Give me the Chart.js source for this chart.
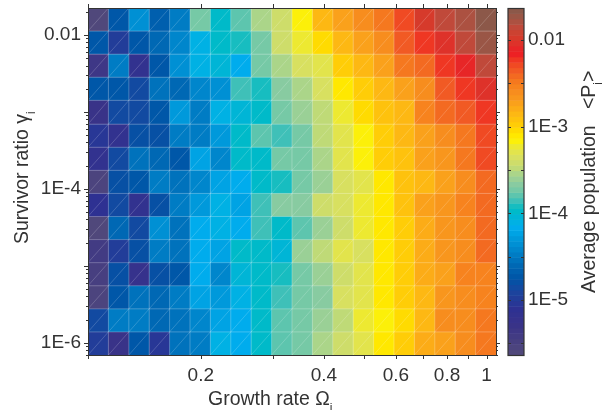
<!DOCTYPE html>
<html>
<head>
<meta charset="utf-8">
<style>
  html, body { margin: 0; padding: 0; background: #fff; }
  #wrap { width: 615px; height: 410px; }
</style>
<script src="https://cdn.jsdelivr.net/npm/chart.js@4"></script>
</head>
<body>
<div id="wrap"><canvas id="heat" width="615" height="410"></canvas></div>
<script>
/* 셀 경계 (Growth rate, log10 Survivor ratio) */
const xEdges = [0.1060, 0.1189, 0.1334, 0.1496, 0.1678, 0.1882, 0.2111, 0.2368, 0.2656, 0.2980, 0.3342,
                0.3749, 0.4205, 0.4717, 0.5291, 0.5935, 0.6657, 0.7467, 0.8376, 0.9396, 1.054];
const yEdgeExp = [-1.65, -1.95, -2.25, -2.55, -2.85, -3.16, -3.46, -3.76, -4.06, -4.36, -4.66, -4.96, -5.26, -5.56, -5.86, -6.16];

/* log10 <P_i>, 위쪽 행부터 */
const row0  = [-5.60,-4.70,-4.33,-4.65,-4.45,-3.75,-3.95,-3.82,-3.55,-3.40,-3.15,-2.85,-2.72,-2.62,-2.45,-2.28,-1.98,-1.87,-1.76,-1.65];
const row1  = [-4.72,-5.00,-4.72,-4.62,-4.42,-4.13,-4.00,-3.92,-3.75,-3.40,-3.25,-3.05,-2.88,-2.72,-2.62,-2.38,-2.20,-2.05,-1.85,-1.73];
const row2  = [-5.35,-4.50,-5.15,-4.70,-4.35,-4.13,-4.05,-4.15,-3.72,-3.55,-3.38,-3.28,-2.98,-2.85,-2.72,-2.50,-2.43,-2.25,-2.13,-1.87];
const row3  = [-4.70,-4.72,-4.85,-4.55,-4.60,-4.42,-4.35,-3.87,-3.90,-3.67,-3.52,-3.38,-3.13,-2.98,-2.85,-2.72,-2.62,-2.38,-2.25,-2.05];
const row4  = [-5.30,-4.85,-4.88,-4.70,-4.30,-4.47,-4.12,-4.05,-3.95,-3.70,-3.60,-3.50,-3.20,-3.05,-2.92,-2.85,-2.55,-2.43,-2.35,-2.20];
const row5  = [-5.05,-5.15,-4.78,-4.78,-4.50,-4.47,-4.30,-3.95,-3.80,-3.87,-3.73,-3.50,-3.28,-3.15,-2.97,-2.85,-2.75,-2.62,-2.45,-2.30];
const row6  = [-5.15,-4.88,-4.55,-4.62,-4.70,-4.25,-4.42,-3.95,-3.97,-3.73,-3.70,-3.52,-3.28,-3.15,-2.98,-2.92,-2.75,-2.65,-2.50,-2.30];
const row7  = [-5.55,-4.78,-4.70,-4.45,-4.55,-4.40,-4.25,-4.15,-3.97,-3.90,-3.75,-3.58,-3.38,-3.28,-3.08,-2.92,-2.85,-2.73,-2.60,-2.42];
const row8  = [-5.10,-4.88,-5.15,-4.78,-4.50,-4.32,-4.10,-4.20,-3.88,-3.68,-3.67,-3.42,-3.38,-3.20,-3.08,-2.92,-2.75,-2.68,-2.55,-2.43];
const row9  = [-5.60,-4.62,-4.88,-4.37,-4.55,-4.15,-4.12,-4.15,-3.88,-3.97,-3.78,-3.58,-3.43,-3.20,-3.08,-2.98,-2.78,-2.68,-2.57,-2.42];
const row10 = [-5.40,-5.00,-4.78,-4.47,-4.52,-4.15,-4.20,-4.00,-3.97,-4.05,-3.63,-3.50,-3.27,-3.37,-3.07,-2.95,-2.78,-2.67,-2.57,-2.40];
const row11 = [-5.45,-4.78,-5.20,-4.78,-4.75,-4.15,-4.42,-4.05,-3.95,-3.90,-3.70,-3.58,-3.43,-3.27,-3.07,-2.95,-2.78,-2.70,-2.52,-2.52];
const row12 = [-5.55,-4.72,-4.57,-4.58,-4.50,-4.25,-4.30,-4.10,-4.00,-3.85,-3.72,-3.67,-3.38,-3.28,-3.07,-2.95,-2.85,-2.67,-2.57,-2.52];
const row13 = [-4.88,-4.50,-4.50,-4.62,-4.55,-4.42,-4.20,-4.15,-3.97,-3.82,-3.72,-3.58,-3.50,-3.20,-3.15,-3.02,-2.85,-2.57,-2.57,-2.47];
const row14 = [-5.00,-5.28,-4.72,-5.02,-4.52,-4.45,-4.13,-4.15,-3.95,-3.82,-3.72,-3.55,-3.42,-3.27,-3.12,-2.95,-2.78,-2.70,-2.62,-2.47];
const rows = [row0, row1, row2, row3, row4, row5, row6, row7, row8, row9, row10, row11, row12, row13, row14];

/* 눈금 */
const xLabelTicks = [0.2, 0.4, 0.6, 0.8, 1];
const xMarkTicks = [0.106, 0.2, 0.3, 0.4, 0.5, 0.6, 0.7, 0.8, 0.9, 1];
const yLabelTicks = [1e-2, 1e-4, 1e-6];
const yMajorTicks = [1e-2, 1e-3, 1e-4, 1e-5, 1e-6];
const cbLabelTicks = [1e-2, 1e-3, 1e-4, 1e-5];

const LOG_MIN = -5.635, LOG_MAX = -1.631, LEVELS = 64;
const INK = '#333333';
const FONT = "'Liberation Sans', Arial, sans-serif";

/* 컬러맵 정지점 [log10 값, rgb] */
const STOPS = [
  [-5.63, [82, 74, 122]], [-5.30, [58, 51, 136]], [-5.10, [46, 49, 146]], [-4.90, [26, 69, 158]],
  [-4.75, [0, 84, 166]], [-4.60, [0, 104, 180]], [-4.45, [0, 128, 200]], [-4.30, [0, 152, 218]],
  [-4.15, [0, 174, 239]], [-4.05, [0, 180, 216]], [-3.95, [0, 188, 196]], [-3.85, [64, 192, 184]],
  [-3.75, [112, 200, 168]], [-3.65, [140, 204, 160]], [-3.55, [168, 212, 140]], [-3.45, [200, 220, 112]],
  [-3.35, [216, 224, 96]], [-3.25, [232, 230, 64]], [-3.15, [255, 242, 0]], [-3.05, [255, 221, 0]],
  [-2.95, [255, 200, 10]], [-2.85, [253, 184, 19]], [-2.75, [251, 165, 26]], [-2.65, [247, 148, 30]],
  [-2.55, [247, 133, 30]], [-2.45, [244, 115, 32]], [-2.35, [241, 90, 36]], [-2.25, [240, 64, 35]],
  [-2.15, [237, 28, 36]], [-2.05, [224, 48, 42]], [-1.95, [211, 62, 44]], [-1.85, [192, 73, 58]],
  [-1.75, [160, 85, 69]], [-1.63, [133, 89, 74]]
];

function colorAt(logValue) {
  // 64단계로 끊어서 색을 고른다
  let lvl = Math.floor((logValue - LOG_MIN) / (LOG_MAX - LOG_MIN) * LEVELS);
  lvl = Math.max(0, Math.min(LEVELS - 1, lvl));
  const v = LOG_MIN + (lvl + 0.5) / LEVELS * (LOG_MAX - LOG_MIN);
  for (let i = 1; i < STOPS.length; i++) {
    if (v <= STOPS[i][0]) {
      const t = (v - STOPS[i - 1][0]) / (STOPS[i][0] - STOPS[i - 1][0]);
      const c = STOPS[i - 1][1].map((a, k) => Math.round(a + (STOPS[i][1][k] - a) * t));
      return `rgb(${c[0]},${c[1]},${c[2]})`;
    }
  }
  const last = STOPS[STOPS.length - 1][1];
  return `rgb(${last[0]},${last[1]},${last[2]})`;
}

const cellPoints = [];
rows.forEach((row, r) => {
  row.forEach((v, c) => {
    cellPoints.push({
      x: Math.sqrt(xEdges[c] * xEdges[c + 1]),
      y: Math.pow(10, (yEdgeExp[r] + yEdgeExp[r + 1]) / 2),
      v, r, c
    });
  });
});

const heatCells = {
  id: 'heatCells',
  beforeDatasetsDraw(chart) {
    const { ctx, scales: { x, y } } = chart;
    ctx.save();
    const px = xEdges.map(e => x.getPixelForValue(e));
    const py = yEdgeExp.map(e => y.getPixelForValue(Math.pow(10, e)));
    cellPoints.forEach(p => {
      ctx.fillStyle = colorAt(p.v);
      ctx.fillRect(px[p.c], py[p.r], px[p.c + 1] - px[p.c] + 0.5, py[p.r + 1] - py[p.r] + 0.5);
    });
    // 셀 경계선과 대각선 (원본의 PDF 렌더링 잔선)
    ctx.strokeStyle = 'rgba(255,255,255,0.26)';
    ctx.lineWidth = 1;
    ctx.beginPath();
    px.slice(1, -1).forEach(v => { ctx.moveTo(v, py[0]); ctx.lineTo(v, py[py.length - 1]); });
    py.slice(1, -1).forEach(v => { ctx.moveTo(px[0], v); ctx.lineTo(px[px.length - 1], v); });
    ctx.stroke();
    ctx.strokeStyle = 'rgba(255,255,255,0.3)';
    ctx.lineWidth = 0.6;
    ctx.beginPath();
    cellPoints.forEach(p => {
      ctx.moveTo(px[p.c], py[p.r + 1]);
      ctx.lineTo(px[p.c + 1], py[p.r]);
    });
    ctx.stroke();
    ctx.restore();
  }
};

function drawSubText(ctx, parts, x, y) {
  // parts: [텍스트, 아래첨자 여부]
  let cx = x;
  parts.forEach(([txt, sub]) => {
    ctx.font = (sub ? '12px ' : '19.5px ') + FONT;
    ctx.fillText(txt, cx, sub ? y + 7 : y);
    cx += ctx.measureText(txt).width;
  });
}

const frameAndBar = {
  id: 'frameAndBar',
  afterDraw(chart) {
    const { ctx, chartArea: a, scales: { x, y, cb } } = chart;
    ctx.save();
    ctx.strokeStyle = INK;
    ctx.lineWidth = 1;

    // 프레임 바깥쪽 눈금
    ctx.beginPath();
    xMarkTicks.forEach(v => {
      const p = Math.round(x.getPixelForValue(v)) + 0.5;
      ctx.moveTo(p, a.bottom); ctx.lineTo(p, a.bottom + 4);
      ctx.moveTo(p, a.top); ctx.lineTo(p, a.top - 4);
    });
    yMajorTicks.forEach(v => {
      const p = Math.round(y.getPixelForValue(v)) + 0.5;
      ctx.moveTo(a.left, p); ctx.lineTo(a.left - 4, p);
      ctx.moveTo(a.right, p); ctx.lineTo(a.right + 4, p);
    });
    for (let e = -7; e <= -2; e++) {
      [2, 3, 4, 5, 6, 7, 8, 9].forEach(m => {
        const v = m * Math.pow(10, e);
        if (v < y.min || v > y.max) return;
        const p = Math.round(y.getPixelForValue(v)) + 0.5;
        ctx.moveTo(a.left, p); ctx.lineTo(a.left - 2, p);
        ctx.moveTo(a.right, p); ctx.lineTo(a.right + 2, p);
      });
    }
    ctx.stroke();
    ctx.strokeRect(a.left + 0.5, a.top + 0.5, a.right - a.left, a.bottom - a.top);

    // 컬러바
    const barL = 508, barR = 524;
    for (let i = 0; i < LEVELS; i++) {
      const lo = LOG_MIN + i / LEVELS * (LOG_MAX - LOG_MIN);
      const hi = LOG_MIN + (i + 1) / LEVELS * (LOG_MAX - LOG_MIN);
      const top = cb.getPixelForValue(Math.pow(10, hi));
      const bot = cb.getPixelForValue(Math.pow(10, lo));
      ctx.fillStyle = colorAt((lo + hi) / 2);
      ctx.fillRect(barL, top, barR - barL, bot - top + 0.5);
    }
    ctx.beginPath();
    for (let e = -5.5; e <= -2; e += 0.5) {
      const p = Math.round(cb.getPixelForValue(Math.pow(10, e))) + 0.5;
      ctx.moveTo(barL, p); ctx.lineTo(barL + 3, p);
      ctx.moveTo(barR, p); ctx.lineTo(barR - 3, p);
    }
    ctx.stroke();
    ctx.lineWidth = 1.2;
    ctx.strokeRect(barL, a.top + 0.5, barR - barL, a.bottom - a.top);

    // 축 제목 (아래첨자 때문에 직접 그림)
    ctx.fillStyle = INK;
    ctx.textAlign = 'left';
    ctx.textBaseline = 'alphabetic';
    drawSubText(ctx, [['Growth rate Ω', false], ['i', true]], 208, 405);

    ctx.save();
    ctx.translate(28, 244);
    ctx.rotate(-Math.PI / 2);
    drawSubText(ctx, [['Survivor ratio γ', false], ['i', true]], 0, 0);
    ctx.restore();

    ctx.save();
    ctx.translate(595, 293);
    ctx.rotate(-Math.PI / 2);
    drawSubText(ctx, [['Average population   <P', false], ['i', true], ['>', false]], 0, 0);
    ctx.restore();

    ctx.restore();
  }
};

function tickFont() {
  return { family: FONT, size: 19 };
}

// 눈금 글자 때문에 플롯 영역이 밀리지 않도록 패딩을 없앤다
function noPadding(s) {
  s.paddingTop = 0;
  s.paddingBottom = 0;
  s.paddingLeft = 0;
  s.paddingRight = 0;
}

new Chart(document.getElementById('heat').getContext('2d'), {
  type: 'scatter',
  data: {
    datasets: [{
      label: 'Average population',
      data: cellPoints,
      pointRadius: 0,
      pointHoverRadius: 0
    }]
  },
  options: {
    responsive: false,
    animation: false,
    layout: { padding: { top: 8, bottom: 0, left: 0, right: 0 } },
    plugins: { legend: { display: false }, tooltip: { enabled: false } },
    scales: {
      x: {
        type: 'logarithmic',
        position: 'bottom',
        min: 0.106,
        max: 1.054,
        grid: { display: false, drawTicks: false },
        border: { display: false },
        afterFit: s => { s.height = 55; noPadding(s); },
        afterBuildTicks: s => { s.ticks = xLabelTicks.map(value => ({ value })); },
        ticks: {
          color: INK, font: tickFont(), padding: 9, maxRotation: 0, autoSkip: false,
          callback: v => String(v)
        }
      },
      y: {
        type: 'logarithmic',
        position: 'left',
        min: Math.pow(10, -6.16),
        max: Math.pow(10, -1.65),
        grid: { display: false, drawTicks: false },
        border: { display: false },
        afterFit: s => { s.width = 88; noPadding(s); },
        afterBuildTicks: s => { s.ticks = yLabelTicks.map(value => ({ value })); },
        ticks: {
          color: INK, font: tickFont(), padding: 7, autoSkip: false,
          callback: v => (v === 1e-2 ? '0.01' : v === 1e-4 ? '1E-4' : '1E-6')
        }
      },
      cb: {
        type: 'logarithmic',
        position: 'right',
        min: Math.pow(10, LOG_MIN),
        max: Math.pow(10, LOG_MAX),
        grid: { display: false, drawTicks: false },
        border: { display: false },
        afterFit: s => { s.width = 119; noPadding(s); },
        afterBuildTicks: s => { s.ticks = cbLabelTicks.map(value => ({ value })); },
        ticks: {
          color: INK, font: tickFont(), padding: 32, autoSkip: false,
          callback: v => (v === 1e-2 ? '0.01' : v === 1e-3 ? '1E-3' : v === 1e-4 ? '1E-4' : '1E-5')
        }
      }
    }
  },
  plugins: [heatCells, frameAndBar]
});
</script>
</body>
</html>
